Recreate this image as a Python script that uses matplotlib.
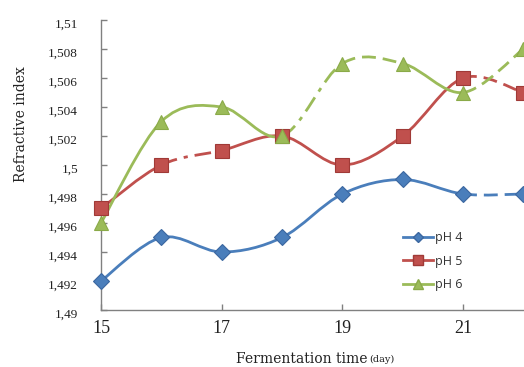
import matplotlib
matplotlib.use("Agg")
import matplotlib.pyplot as plt
from matplotlib.path import Path
from matplotlib.patches import PathPatch
from matplotlib.lines import Line2D
from matplotlib.ticker import FuncFormatter
from matplotlib.transforms import ScaledTranslation

# Fermentation days and refractive index per pH
days = [15, 16, 17, 18, 19, 20, 21, 22]
ph4 = [1.492, 1.495, 1.494, 1.495, 1.498, 1.499, 1.498, 1.498]
ph5 = [1.497, 1.500, 1.501, 1.502, 1.500, 1.502, 1.506, 1.505]
ph6 = [1.496, 1.503, 1.504, 1.502, 1.507, 1.507, 1.505, 1.508]
series_names = ["pH 4", "pH 5", "pH 6"]
x_ticks = [15, 17, 19, 21]
y_ticks = [1.490, 1.492, 1.494, 1.496, 1.498, 1.500, 1.502, 1.504, 1.506, 1.508, 1.510]

colors = ["#4A7EBB", "#C0504D", "#9BBB59"]
edge_colors = ["#3B67A0", "#A03A37", "#8AAA48"]
markers = ["D", "s", "^"]
msizes = [8, 10, 10]

SOLID = "-"
DASHDOT = (0, (6, 2.5, 1.5, 2.5))
DASHED = (0, (5, 2.5))
# line style for each segment between consecutive days
seg_styles = [
    [SOLID, SOLID, SOLID, SOLID, SOLID, SOLID, DASHED],
    [SOLID, DASHDOT, SOLID, SOLID, SOLID, SOLID, DASHED],
    [SOLID, SOLID, SOLID, DASHDOT, DASHED, SOLID, DASHED],
]

W, H = 524, 367
fig = plt.figure(figsize=(W / 100, H / 100), dpi=100)
ax = fig.add_axes([101 / W, 57 / H, 423 / W, 290 / H])
ax.set_xlim(15, 22.01)
ax.set_ylim(1.49, 1.51)


def smooth_segments(xs, ys):
    """Cubic Bezier pieces (Catmull-Rom style) through the points."""
    n = len(xs)
    pieces = []
    for i in range(n - 1):
        x0, y0 = xs[max(i - 1, 0)], ys[max(i - 1, 0)]
        x1, y1 = xs[i], ys[i]
        x2, y2 = xs[i + 1], ys[i + 1]
        x3, y3 = xs[min(i + 2, n - 1)], ys[min(i + 2, n - 1)]
        c1 = (x1 + (x2 - x0) / 6, y1 + (y2 - y0) / 6)
        c2 = (x2 - (x3 - x1) / 6, y2 - (y3 - y1) / 6)
        pieces.append(Path([(x1, y1), c1, c2, (x2, y2)],
                           [Path.MOVETO, Path.CURVE4, Path.CURVE4, Path.CURVE4]))
    return pieces


handles = []
for vals, name, col, ec, mk, ms, styles in zip(
        [ph4, ph5, ph6], series_names, colors, edge_colors, markers, msizes, seg_styles):
    for piece, ls in zip(smooth_segments(days, vals), styles):
        patch = PathPatch(piece, facecolor="none", edgecolor=col, lw=2,
                          linestyle=ls, zorder=3, clip_on=False)
        ax.add_patch(patch)
    ax.plot(days, vals, linestyle="none", marker=mk, markersize=ms,
            markerfacecolor=col, markeredgecolor=ec, markeredgewidth=0.8,
            zorder=4, clip_on=False)
    handles.append(Line2D([], [], color=col, lw=2, marker=mk, markersize=ms * 0.65,
                          markerfacecolor=col, markeredgecolor=ec, label=name))

for s in ["top", "right"]:
    ax.spines[s].set_visible(False)
for s in ["left", "bottom"]:
    ax.spines[s].set_color("#808080")
    ax.spines[s].set_linewidth(1.0)

serif = "Liberation Serif"
ax.set_xticks(x_ticks)
ax.set_yticks(y_ticks)
ax.yaxis.set_major_formatter(FuncFormatter(
    lambda v, p: ("%.3f" % v).rstrip("0").rstrip(".").replace(".", ",")))
ax.tick_params(direction="in", length=4, color="#808080", width=1)
ax.tick_params(axis="x", labelsize=13, pad=7)
ax.tick_params(axis="y", labelsize=9.5, pad=16.5)
shift = ScaledTranslation(0, -3 / 100, fig.dpi_scale_trans)
for lab in ax.get_yticklabels():
    lab.set_transform(lab.get_transform() + shift)
for lab in ax.get_xticklabels() + ax.get_yticklabels():
    lab.set_fontfamily(serif)
    lab.set_color("#222222")

label_font = "DejaVu Serif"
fig.text(21 / W, 1 - 124 / H, "Refractive index", fontfamily=label_font, fontsize=10,
         rotation=90, ha="center", va="center", color="#222222")
fig.text(367 / W, 1 - 359 / H, "Fermentation time", fontfamily=label_font, fontsize=10,
         ha="right", va="center", color="#222222")
fig.text(369 / W, 1 - 359 / H, "(day)", fontfamily=label_font, fontsize=7,
         ha="left", va="center", color="#222222")

leg = ax.legend(handles=handles, loc="upper left",
                bbox_to_anchor=(403 / W, 1 - 231 / H), bbox_transform=fig.transFigure,
                frameon=False, handlelength=2.4, handletextpad=0.15,
                labelspacing=0.85, borderpad=0, borderaxespad=0,
                prop={"family": "Open Sans", "size": 9})
for t in leg.get_texts():
    t.set_color("#333333")

fig.savefig("out.png", dpi=100, facecolor="white")
